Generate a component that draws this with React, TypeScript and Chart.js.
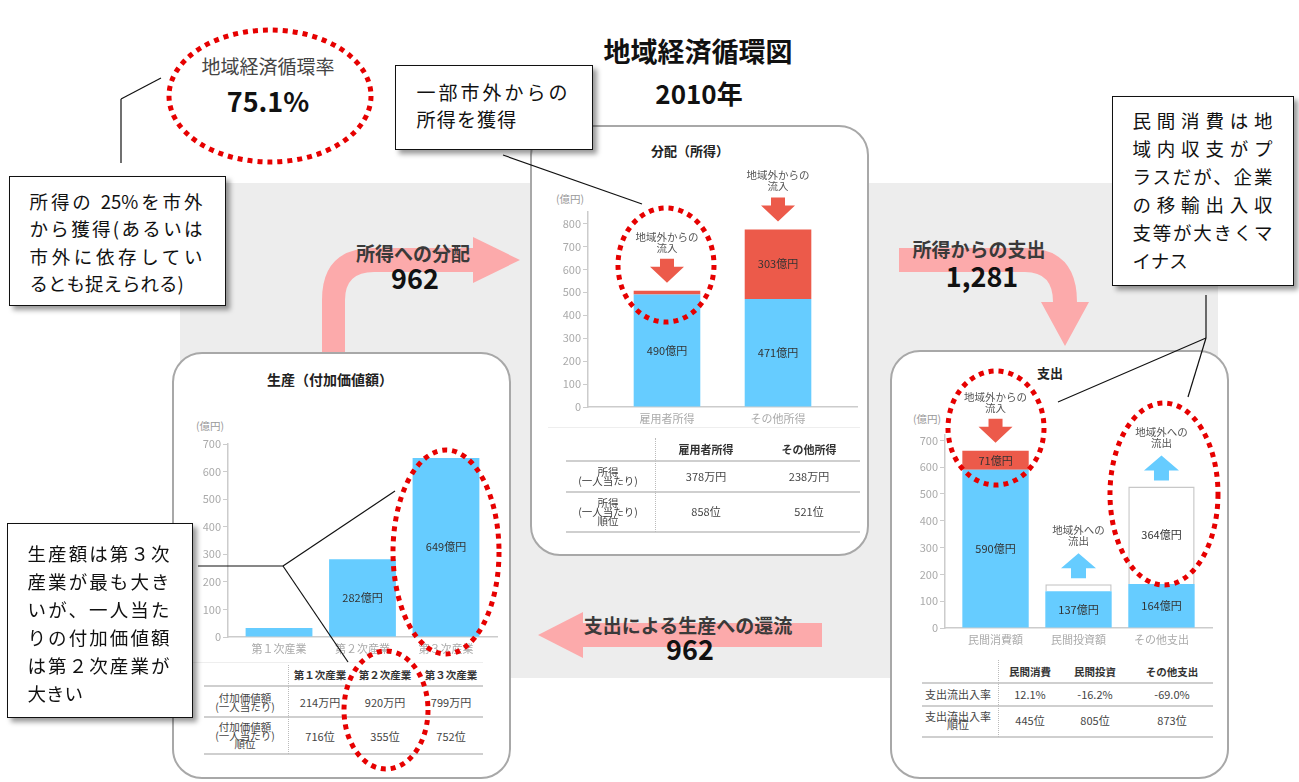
import React, { useEffect, useRef } from 'react';
import { Chart, registerables } from 'chart.js';

Chart.register(...registerables);

const FONT = '"Noto Sans CJK JP", "Noto Sans", sans-serif';
Chart.defaults.font.family = FONT;

const BLUE = '#66ccff';
const RED = '#ec5a4a';
const PINK = '#fcaaab';

// ---- 生産（付加価値額） (億円)
const prodCategories = ['第１次産業', '第２次産業', '第３次産業'];
const prodValues = [33, 282, 649];
const prodValueLabels = ['', '282億円', '649億円'];

// ---- 分配（所得） (億円)
const distCategories = ['雇用者所得', 'その他所得'];
const distLocal = [490, 471];
const distInflow = [17, 303];
const distLocalLabels = ['490億円', '471億円'];
const distInflowLabels = ['', '303億円'];

// ---- 支出 (億円)
const expCategories = ['民間消費額', '民間投資額', 'その他支出'];
const expLocal = [590, 137, 164];
const expInflow = [71, 0, 0];
const expOutflow = [0, 26, 364];
const expLocalLabels = ['590億円', '137億円', '164億円'];
const expInflowLabels = ['71億円', '', ''];
const expOutflowLabels = ['', '', '364億円'];

const inNote = { lines: ['地域外からの', '流入'], dir: 'down' };
const outNote = { lines: ['地域外への', '流出'], dir: 'up' };
const distNotes = [inNote, inNote];
const expNotes = [inNote, outNote, outNote];

// ---- tables
const prodTableHeads = ['第１次産業', '第２次産業', '第３次産業'];
const prodTableRowLabels = [['付加価値額', '(一人当たり)'], ['付加価値額', '(一人当たり)', '順位']];
const prodPerCapita = ['214万円', '920万円', '799万円'];
const prodRank = ['716位', '355位', '752位'];

const distTableHeads = ['雇用者所得', 'その他所得'];
const distTableRowLabels = [['所得', '(一人当たり)'], ['所得', '(一人当たり)', '順位']];
const distPerCapita = ['378万円', '238万円'];
const distRank = ['858位', '521位'];

const expTableHeads = ['民間消費', '民間投資', 'その他支出'];
const expTableRowLabels = [['支出流出入率'], ['支出流出入率', '順位']];
const expRate = ['12.1%', '-16.2%', '-69.0%'];
const expRank = ['445位', '805位', '873位'];

// ---- headline figures
const circulationRate = '75.1%';
const flowToIncome = '962';
const flowToSpending = '1,281';
const flowToProduction = '962';

type Seg = { values: number[]; labels: string[]; color: string; border?: number[] };
type Note = { lines: string[]; dir: string };

function makeOverlay(segs: Seg[], notes: Note[]) {
  return {
    id: 'overlay',
    afterDatasetsDraw(chart: any) {
      const ctx = chart.ctx as CanvasRenderingContext2D;
      ctx.save();
      ctx.textAlign = 'center';
      ctx.textBaseline = 'middle';
      ctx.font = `11px ${FONT}`;
      ctx.fillStyle = '#333';
      segs.forEach((s, di) => {
        const meta = chart.getDatasetMeta(di);
        meta.data.forEach((el: any, i: number) => {
          const t = s.labels[i];
          if (!t) return;
          const { x, y, base } = el.getProps(['x', 'y', 'base'], true);
          ctx.fillText(t, x, (y + base) / 2);
        });
      });
      notes.forEach((n, i) => {
        const total = segs.reduce((a, s) => a + s.values[i], 0);
        const x = chart.scales.x.getPixelForValue(i);
        const t = chart.scales.y.getPixelForValue(total);
        ctx.fillStyle = '#555';
        ctx.font = `10.5px ${FONT}`;
        ctx.fillText(n.lines[0], x, t - 54);
        ctx.fillText(n.lines[1], x, t - 43);
        ctx.beginPath();
        if (n.dir === 'down') {
          ctx.fillStyle = RED;
          ctx.moveTo(x - 7, t - 32);
          ctx.lineTo(x + 7, t - 32);
          ctx.lineTo(x + 7, t - 24);
          ctx.lineTo(x + 17, t - 24);
          ctx.lineTo(x, t - 8);
          ctx.lineTo(x - 17, t - 24);
          ctx.lineTo(x - 7, t - 24);
        } else {
          ctx.fillStyle = BLUE;
          ctx.moveTo(x, t - 31);
          ctx.lineTo(x + 17.5, t - 16);
          ctx.lineTo(x + 7.5, t - 16);
          ctx.lineTo(x + 7.5, t - 6);
          ctx.lineTo(x - 7.5, t - 6);
          ctx.lineTo(x - 7.5, t - 16);
          ctx.lineTo(x - 17.5, t - 16);
        }
        ctx.closePath();
        ctx.fill();
      });
      ctx.restore();
    },
  };
}

function BarChart(props: {
  left: number; top: number; width: number; height: number; padTop: number;
  categories: string[]; segs: Seg[]; yMax: number; xPad: number; barPct: number; notes: Note[];
}) {
  const ref = useRef<HTMLCanvasElement>(null);
  const { left, top, width, height, padTop, categories, segs, yMax, xPad, barPct, notes } = props;
  useEffect(() => {
    const chart = new Chart(ref.current as HTMLCanvasElement, {
      type: 'bar',
      data: {
        datasets: segs.map((s) => ({
          data: s.values.map((v, i) => ({ x: i, y: v })),
          backgroundColor: s.color,
          borderColor: '#c8c8c8',
          borderWidth: s.border ?? 0,
          borderSkipped: 'bottom',
          barPercentage: barPct,
          categoryPercentage: 1,
        })),
      } as any,
      options: {
        responsive: false,
        animation: false,
        events: [],
        layout: { padding: { top: padTop, right: 4, left: 0, bottom: 0 } },
        plugins: { legend: { display: false }, tooltip: { enabled: false } },
        scales: {
          x: {
            type: 'linear',
            stacked: true,
            offset: false,
            min: -xPad,
            max: categories.length - 1 + xPad,
            grid: { drawOnChartArea: false, drawTicks: false, offset: false },
            border: { color: '#cccccc', width: 1.5 },
            ticks: {
              stepSize: 1,
              includeBounds: false,
              autoSkip: false,
              maxRotation: 0,
              color: '#aaaaaa',
              padding: 5,
              font: { size: 11, family: FONT },
              callback: (v: any) => (Number.isInteger(v) && categories[v] ? categories[v] : ''),
            },
            afterFit: (s: any) => { s.height = 22; },
          },
          y: {
            stacked: true,
            min: 0,
            max: yMax,
            grid: { drawOnChartArea: false, drawTicks: true, tickLength: 5, color: '#cccccc' },
            border: { color: '#cccccc', width: 1.5 },
            ticks: {
              stepSize: 100,
              includeBounds: false,
              color: '#aaaaaa',
              padding: 2,
              font: { size: 11, family: FONT },
            },
            afterFit: (s: any) => { s.width = 40; },
          },
        },
      } as any,
      plugins: [makeOverlay(segs, notes)],
    });
    return () => chart.destroy();
  }, []);
  return (
    <canvas
      ref={ref}
      width={width}
      height={height}
      style={{ position: 'absolute', left, top, width, height }}
    />
  );
}

function T(props: { x: number; y: number; size: number; bold?: boolean; color?: string; children: any; style?: any }) {
  const { x, y, size, bold, color, children, style } = props;
  return (
    <div
      style={{
        position: 'absolute',
        left: x,
        top: y,
        transform: 'translate(-50%,-50%)',
        whiteSpace: 'nowrap',
        fontSize: size,
        lineHeight: 1,
        fontWeight: bold ? 700 : 400,
        color: color ?? '#333',
        ...style,
      }}
    >
      {children}
    </div>
  );
}

function HLine(props: { x1: number; x2: number; y: number; color?: string; w?: number }) {
  const { x1, x2, y, color, w } = props;
  return (
    <div style={{ position: 'absolute', left: x1, top: y - (w ?? 2) / 2, width: x2 - x1, height: 0, borderTop: `${w ?? 2}px solid ${color ?? '#cfcfcf'}` }} />
  );
}

function DataTable(props: {
  x1: number; x2: number; topLine?: number; headY: number; colCx: number[]; heads: string[];
  lines: number[]; divX: number; divTop: number; rowY: number[]; labelCx: number;
  rowLabels: string[][]; rows: string[][]; headSize: number; labelSize: number; labelLH: number; valSize: number;
}) {
  const p = props;
  return (
    <>
      {p.topLine !== undefined && <HLine x1={p.x1 - 18} x2={p.x2} y={p.topLine} color="#eeeeee" w={1} />}
      {p.heads.map((h, i) => (
        <T key={'h' + i} x={p.colCx[i]} y={p.headY} size={p.headSize} bold color="#333">{h}</T>
      ))}
      {p.lines.map((y, i) => (
        <HLine key={'l' + i} x1={p.x1} x2={p.x2} y={y} />
      ))}
      <div style={{ position: 'absolute', left: p.divX, top: p.divTop, width: 0, height: p.lines[p.lines.length - 1] - p.divTop, borderLeft: '1px dotted #bbbbbb' }} />
      {p.rowLabels.map((ls, r) => (
        <div
          key={'rl' + r}
          style={{
            position: 'absolute', left: p.labelCx, top: p.rowY[r], transform: 'translate(-50%,-50%)',
            textAlign: 'center', whiteSpace: 'nowrap', fontSize: p.labelSize, lineHeight: `${p.labelLH}px`, color: '#444',
          }}
        >
          {ls.map((l, k) => (<div key={k}>{l}</div>))}
        </div>
      ))}
      {p.rows.map((row, r) =>
        row.map((v, c) => (
          <T key={'v' + r + '_' + c} x={p.colCx[c]} y={p.rowY[r]} size={p.valSize} color="#444">{v}</T>
        ))
      )}
    </>
  );
}

function Callout(props: {
  left: number; top: number; width: number; height: number; textLeft: number; textTop: number;
  textWidth?: number; lines: string[]; size: number; lh: number; justify?: boolean; spacing?: number[];
}) {
  const p = props;
  return (
    <div
      style={{
        position: 'absolute', left: p.left, top: p.top, width: p.width, height: p.height, boxSizing: 'border-box',
        border: '1.5px solid #111', background: '#fff', boxShadow: '4px 4px 5px rgba(0,0,0,0.4)',
      }}
    >
      {p.lines.map((l, i) => {
        const just = p.justify && i < p.lines.length - 1;
        return (
          <div
            key={i}
            style={{
              position: 'absolute', left: p.textLeft - p.left - 1.5, top: p.textTop - p.top - 1.5 + i * p.lh,
              height: p.lh, lineHeight: `${p.lh}px`, fontSize: p.size, color: '#111', whiteSpace: 'nowrap',
              width: just ? p.textWidth : undefined, textAlign: just ? 'justify' : 'left',
              textAlignLast: just ? 'justify' : 'auto', letterSpacing: p.spacing ? p.spacing[i] : 0,
            } as any}
          >
            {l}
          </div>
        );
      })}
    </div>
  );
}

function Panel(props: { left: number; top: number; width: number; height: number }) {
  const { left, top, width, height } = props;
  return (
    <div style={{ position: 'absolute', left, top, width, height, boxSizing: 'border-box', border: '2.5px solid #a8a8a8', borderRadius: 30, background: '#fff' }} />
  );
}

const ellipses = [
  [270, 96, 101, 66],
  [666, 265, 48, 57],
  [446, 552, 53, 102],
  [386, 710, 42, 59],
  [996, 428, 48, 57],
  [1164, 494, 54, 91],
];

const connectors = [
  [161, 78, 121, 99], [121, 99, 121, 163],
  [503, 155, 642, 204],
  [1206, 295, 1206, 338], [1206, 338, 1058, 402], [1206, 338, 1188, 397],
  [198, 566, 283, 566], [283, 566, 395, 491], [283, 566, 348, 662],
];

export default function App() {
  const prodSegs: Seg[] = [{ values: prodValues, labels: prodValueLabels, color: BLUE }];
  const distSegs: Seg[] = [
    { values: distLocal, labels: distLocalLabels, color: BLUE },
    { values: distInflow, labels: distInflowLabels, color: RED },
  ];
  const expSegs: Seg[] = [
    { values: expLocal, labels: expLocalLabels, color: BLUE },
    { values: expInflow, labels: expInflowLabels, color: RED },
    { values: expOutflow, labels: expOutflowLabels, color: '#ffffff', border: [0, 1.5, 1.5] },
  ];

  return (
    <div style={{ position: 'absolute', left: 0, top: 0, width: 1299, height: 782, overflow: 'hidden', background: '#fff', fontFamily: FONT }}>
      {/* gray background */}
      <div style={{ position: 'absolute', left: 180, top: 183, width: 1038, height: 495, background: '#ededed' }} />

      {/* pink flow arrows */}
      <svg width={1299} height={782} style={{ position: 'absolute', left: 0, top: 0 }}>
        <path d="M 322 352 L 322 300 Q 322 248 374 248 L 473 248 L 473 237 L 520 260 L 473 283 L 473 272 L 374 272 Q 345 272 345 300 L 345 352 Z" fill={PINK} />
        <path d="M 899 248 L 1025 248 Q 1077 248 1077 302 L 1089 302 L 1065 346 L 1041 302 L 1053 302 Q 1053 272 1025 272 L 899 272 Z" fill={PINK} />
        <path d="M 822 623 L 583 623 L 583 612 L 538 635 L 583 658 L 583 647 L 822 647 Z" fill={PINK} />
      </svg>

      <T x={413} y={252} size={19} bold color="#3a3a3a">所得への分配</T>
      <T x={415} y={277} size={27} bold color="#111">{flowToIncome}</T>
      <T x={979} y={248} size={19} bold color="#3a3a3a">所得からの支出</T>
      <T x={982} y={275} size={27} bold color="#111">{flowToSpending}</T>
      <T x={688} y={624} size={19} bold color="#3a3a3a">支出による生産への還流</T>
      <T x={690} y={648} size={27} bold color="#111">{flowToProduction}</T>

      {/* panels */}
      <Panel left={530} top={125} width={339} height={431} />
      <Panel left={172} top={352} width={339} height={427} />
      <Panel left={890} top={350} width={339} height={429} />

      {/* 分配 */}
      <T x={690} y={150} size={13} bold color="#222">分配（所得）</T>
      <T x={570} y={199} size={10.5} color="#999">(億円)</T>
      <BarChart left={548} top={165} width={313} height={264} padTop={47}
        categories={distCategories} segs={distSegs} yMax={850} xPad={0.7115} barPct={0.6} notes={distNotes} />
      <DataTable x1={566} x2={860} topLine={427} headY={449} colCx={[706, 809]} heads={distTableHeads}
        lines={[461, 492, 532]} divX={655} divTop={438} rowY={[476, 511]} labelCx={608}
        rowLabels={distTableRowLabels} rows={[distPerCapita, distRank]} headSize={11} labelSize={10.5} labelLH={9} valSize={11} />

      {/* 生産 */}
      <T x={330} y={379} size={14} bold color="#222">生産（付加価値額）</T>
      <T x={210} y={426} size={10.5} color="#999">(億円)</T>
      <BarChart left={188} top={434} width={313} height={225} padTop={10}
        categories={prodCategories} segs={prodSegs} yMax={700} xPad={0.611} barPct={0.8} notes={[]} />
      <DataTable x1={204} x2={483} topLine={662} headY={675} colCx={[320, 385, 451]} heads={prodTableHeads}
        lines={[686, 717, 754]} divX={288} divTop={665} rowY={[702, 736]} labelCx={245}
        rowLabels={prodTableRowLabels} rows={[prodPerCapita, prodRank]} headSize={10.5} labelSize={10.5} labelLH={8.5} valSize={11} />

      {/* 支出 */}
      <T x={1050} y={372} size={13} bold color="#222">支出</T>
      <T x={927} y={419} size={10.5} color="#999">(億円)</T>
      <BarChart left={905} top={380} width={311} height={270} padTop={55}
        categories={expCategories} segs={expSegs} yMax={720} xPad={0.609} barPct={0.8} notes={expNotes} />
      <DataTable x1={922} x2={1213} headY={672} colCx={[1030, 1095, 1172]} heads={expTableHeads}
        lines={[683, 706, 737]} divX={998} divTop={660} rowY={[694, 720]} labelCx={958}
        rowLabels={expTableRowLabels} rows={[expRate, expRank]} headSize={10.5} labelSize={11} labelLH={8} valSize={11} />

      {/* titles */}
      <T x={698} y={50} size={27} bold color="#111">地域経済循環図</T>
      <T x={699} y={93} size={26} bold color="#111">2010年</T>
      <T x={268} y={65} size={19} color="#444">地域経済循環率</T>
      <T x={268} y={100} size={27} bold color="#111">{circulationRate}</T>

      {/* callouts */}
      <Callout left={9} top={176} width={217} height={130} textLeft={30} textTop={188} textWidth={173}
        lines={['所得の 25%を市外', 'から獲得(あるいは', '市外に依存してい', 'るとも捉えられる)']} size={18.5} lh={27.5} justify />
      <Callout left={395} top={65} width={198} height={85} textLeft={417} textTop={78}
        lines={['一部市外からの', '所得を獲得']} size={19} lh={27} spacing={[3, 1.2]} />
      <Callout left={1112} top={96} width={182} height={190} textLeft={1133} textTop={106} textWidth={140}
        lines={['民間消費は地', '域内収支がプ', 'ラスだが、企業', 'の移輸出入収', '支等が大きくマ', 'イナス']} size={18.5} lh={28} justify />
      <Callout left={7} top={523} width={186} height={195} textLeft={28} textTop={539} textWidth={142}
        lines={['生産額は第３次', '産業が最も大き', 'いが、一人当た', 'りの付加価値額', 'は第２次産業が', '大きい']} size={18.5} lh={28} justify />

      {/* connectors and dotted ellipses */}
      <svg width={1299} height={782} style={{ position: 'absolute', left: 0, top: 0, pointerEvents: 'none' }}>
        {connectors.map((c, i) => (
          <line key={i} x1={c[0]} y1={c[1]} x2={c[2]} y2={c[3]} stroke="#111" strokeWidth={1.2} />
        ))}
        {ellipses.map((e, i) => (
          <ellipse key={i} cx={e[0]} cy={e[1]} rx={e[2]} ry={e[3]} fill="none" stroke="#e60000" strokeWidth={5} strokeDasharray="5 5" />
        ))}
      </svg>
    </div>
  );
}
